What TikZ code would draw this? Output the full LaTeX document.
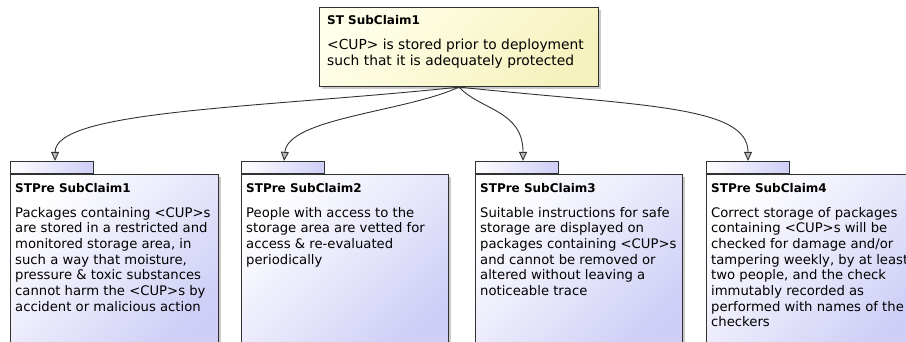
\documentclass[tikz,border=0pt]{standalone}
\usepackage{fontspec}
\setmainfont{DejaVu Sans}
\usetikzlibrary{arrows.meta,positioning,shadows}

\definecolor{claimlight}{RGB}{255,255,234}
\definecolor{claimyellow}{RGB}{246,242,190}
\definecolor{prelilac}{RGB}{206,206,247}
\definecolor{edgegray}{RGB}{50,50,50}

\tikzset{
  boxshadow/.style={drop shadow={shadow xshift=2.5pt, shadow yshift=-2.5pt, fill=gray!70, opacity=.6}},
  claimbox/.style={draw=edgegray, line width=1.1pt, top color=claimlight, bottom color=claimyellow,
    shading angle=45, boxshadow, inner sep=0pt, minimum width=279pt, minimum height=79pt},
  prebox/.style={draw=edgegray, line width=1.1pt, top color=white, bottom color=prelilac,
    shading angle=45, boxshadow, inner sep=0pt, minimum width=208pt, minimum height=180pt},
  pretab/.style={draw=edgegray, line width=1.1pt, left color=white, right color=prelilac,
    inner sep=0pt, minimum width=83pt, minimum height=12pt},
  titletext/.style={inner sep=0pt, anchor=north west, font=\fontsize{12}{14}\selectfont\bfseries},
  bodytext/.style={inner sep=0pt, anchor=north west, align=left, font=\fontsize{13.2}{15.7}\selectfont},
  support/.style={draw=edgegray, line width=0.9pt, -{Triangle[width=8pt, length=9pt, fill=gray!55]}}
}

\begin{document}
\begin{tikzpicture}[x=1pt,y=-1pt]
\useasboundingbox (0,0) rectangle (906,341);

% top claim
\node[claimbox, anchor=north west] (st) at (319,7) {};
\node[titletext, below right=7.9pt and 8pt of st.north west] (sttitle) {ST SubClaim1};
\node[bodytext, font=\fontsize{13.8}{16}\selectfont, below right=32pt and 8pt of st.north west] (stbody)
  {<CUP> is stored prior to deployment\\such that it is adequately protected};

% sub-claims, tab first then body
\node[pretab, anchor=south west] (pre1tab) at (10,174) {};
\node[prebox, anchor=north west] (pre1) at (10,174) {};
\node[titletext, below right=9.6pt and 5pt of pre1.north west] {STPre SubClaim1};
\node[bodytext, below right=32.8pt and 5pt of pre1.north west]
  {Packages containing <CUP>s\\are stored in a restricted and\\monitored storage area, in\\such a way that moisture,\\pressure \& toxic substances\\cannot harm the <CUP>s by\\accident or malicious action};

\node[pretab, anchor=south west] (pre2tab) at (241,174) {};
\node[prebox, anchor=north west, minimum width=207pt] (pre2) at (241,174) {};
\node[titletext, below right=9.6pt and 5pt of pre2.north west] {STPre SubClaim2};
\node[bodytext, below right=32.8pt and 5pt of pre2.north west]
  {People with access to the\\storage area are vetted for\\access \& re-evaluated\\periodically};

\node[pretab, anchor=south west] (pre3tab) at (475,174) {};
\node[prebox, anchor=north west, minimum width=207pt] (pre3) at (475,174) {};
\node[titletext, below right=9.6pt and 5pt of pre3.north west] {STPre SubClaim3};
\node[bodytext, below right=32.8pt and 5pt of pre3.north west]
  {Suitable instructions for safe\\storage are displayed on\\packages containing <CUP>s\\and cannot be removed or\\altered without leaving a\\noticeable trace};

\node[pretab, anchor=south west] (pre4tab) at (706,174) {};
\node[prebox, anchor=north west, minimum width=215pt] (pre4) at (706,174) {};
\node[titletext, below right=9.6pt and 5pt of pre4.north west] {STPre SubClaim4};
\node[bodytext, below right=32.8pt and 5pt of pre4.north west]
  {Correct storage of packages\\containing <CUP>s will be\\checked for damage and/or\\tampering weekly, by at least\\two people, and the check\\immutably recorded as\\performed with names of the\\checkers};

% connectors
\draw[support] (st.south) .. controls (260,108) and ([xshift=3pt]pre1tab.north |- 0,110) .. ([xshift=3pt]pre1tab.north);
\draw[support] (st.south) .. controls (405,112) and (288,118) .. ([xshift=1pt]pre2tab.north);
\draw[support] (st.south) .. controls (480,110) and (523,110) .. ([xshift=6pt]pre3tab.north);
\draw[support] (st.south) .. controls (640,106) and (748,105) .. (pre4tab.north);
\end{tikzpicture}
\end{document}
